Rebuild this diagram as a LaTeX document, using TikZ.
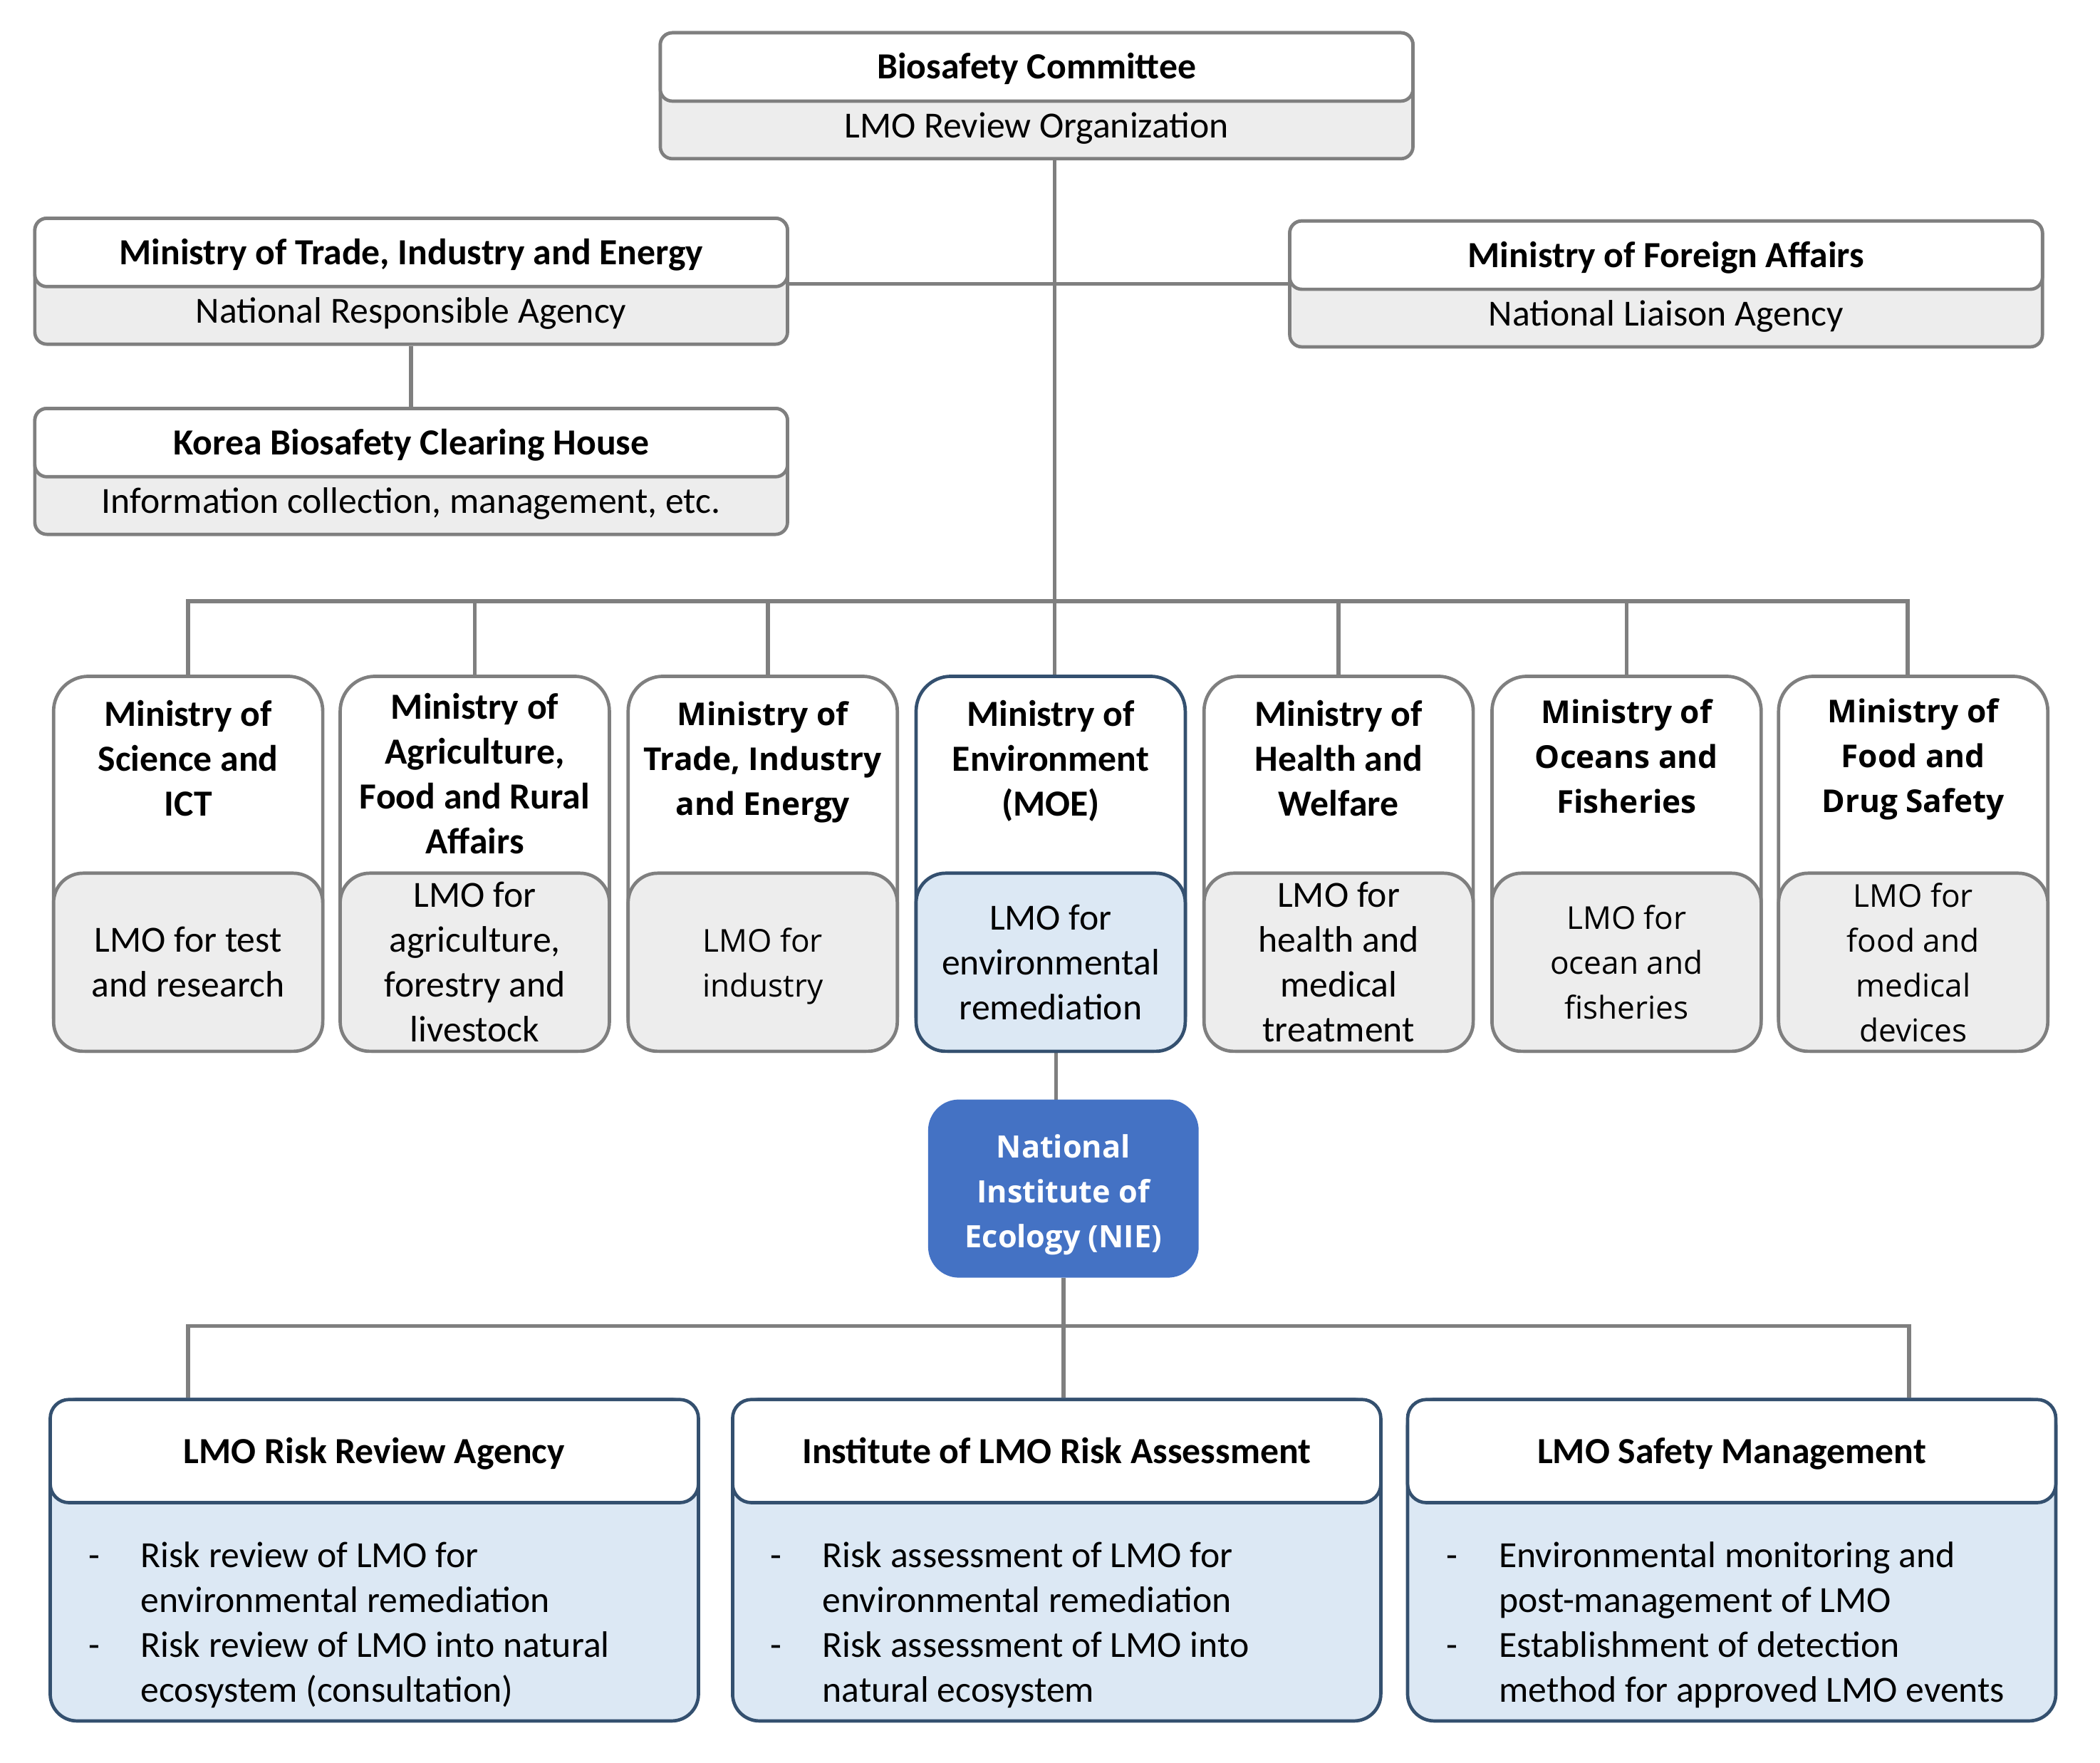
\documentclass[tikz,border=0pt]{standalone}
\usepackage{fontspec}
\setmainfont{Carlito}
\newfontfamily\osans{Open Sans}
\usetikzlibrary{backgrounds}
\definecolor{lineg}{HTML}{7F7F7F}
\definecolor{greyf}{HTML}{EDEDED}
\definecolor{darkb}{HTML}{34506F}
\definecolor{lblue}{HTML}{DCE8F4}
\definecolor{nieblue}{HTML}{4472C4}
\newcommand\fC{\fontsize{27.5}{33.5}\selectfont}
\newcommand\fO{\osans\fontsize{23.5}{33.5}\selectfont}
\begin{document}
\begin{tikzpicture}[x=1pt,y=-1pt,
  gline/.style={draw=lineg,line width=3pt},
  gbox/.style={draw=lineg,line width=2.5pt,inner sep=0pt},
  hdouter/.style={gbox,fill=greyf,rounded corners=9pt,minimum width=562pt,minimum height=94pt},
  hdtitle/.style={gbox,fill=white,rounded corners=9pt,minimum width=562pt,minimum height=51pt,font=\fC\bfseries,text height=23pt,text depth=5pt},
  hdsub/.style={inner sep=0pt,font=\fC},
  mouter/.style={gbox,fill=white,rounded corners=26pt,minimum width=201pt,minimum height=280pt},
  msub/.style={gbox,fill=greyf,rounded corners=22pt,minimum width=201pt,minimum height=133pt,align=center},
  mtitle/.style={inner sep=0pt,align=center},
  bouter/.style={draw=darkb,line width=2.5pt,inner sep=0pt,fill=lblue,rounded corners=20pt,minimum width=484pt,minimum height=240pt},
  btitle/.style={draw=darkb,line width=2.5pt,inner sep=0pt,fill=white,rounded corners=14pt,minimum width=484pt,minimum height=77pt,font=\fC\bfseries,text height=23pt,text depth=5pt},
  blist/.style={inner sep=0pt,anchor=west,font=\fC}
]
\useasboundingbox (0,0) rectangle (1568,1316.4);

% ---- top boxes
\node[hdouter] (bc) at (774,71.5) {};
\node[hdtitle] (bct) at (774,50) {Biosafety Committee};
\node[hdsub] (bcs) at (774,96) {LMO Review Organization};

\node[hdouter] (motie) at (307,210) {};
\node[hdtitle] (motiet) at (307,188.5) {Ministry of Trade, Industry and Energy};
\node[hdsub] (moties) at (307,234) {National Responsible Agency};

\node[hdouter] (mofa) at (1244,212) {};
\node[hdtitle] (mofat) at (1244,190.5) {Ministry of Foreign Affairs};
\node[hdsub] (mofas) at (1244,236) {National Liaison Agency};

\node[hdouter] (kbch) at (307,352) {};
\node[hdtitle] (kbcht) at (307,330.5) {Korea Biosafety Clearing House};
\node[hdsub] (kbchs) at (307,376) {Information collection, management, etc.};

% ---- ministry boxes
\node[mouter] (m1) at (140.5,645) {};
\node[msub,font=\fC] (s1) at (140.5,718.5) {LMO for test\\and research};
\node[mtitle,font=\fC\bfseries] (t1) at (140.5,566) {Ministry of\\Science and\\ICT};

\node[mouter] (m2) at (354.5,645) {};
\node[msub,font=\fC] (s2) at (354.5,718.5) {LMO for\\agriculture,\\forestry and\\livestock};
\node[mtitle,font=\fC\bfseries] (t2) at (354.5,577.5) {Ministry of\\Agriculture,\\Food and Rural\\Affairs};

\node[mouter] (m3) at (569.5,645) {};
\node[msub] (s3) at (569.5,718.5) {};
\node[mtitle,font=\fO] (s3t) at (569.5,721.5) {LMO for\\industry};
\node[mtitle,font=\fO\bfseries] (t3) at (569.5,569) {Ministry of\\Trade, Industry\\and Energy};

\node[mouter,draw=darkb] (m4) at (784.5,645) {};
\node[msub,draw=darkb,fill=lblue,font=\fC] (s4) at (784.5,718.5) {LMO for\\environmental\\remediation};
\node[mtitle,font=\fC\bfseries] (t4) at (784.5,568) {Ministry of\\Environment\\(MOE)};

\node[mouter] (m5) at (999.5,645) {};
\node[msub,font=\fC] (s5) at (999.5,718.5) {LMO for\\health and\\medical\\treatment};
\node[mtitle,font=\fC\bfseries] (t5) at (999.5,566) {Ministry of\\Health and\\Welfare};

\node[mouter] (m6) at (1214.5,645) {};
\node[msub,font=\fO] (s6) at (1214.5,718.5) {LMO for\\ocean and\\fisheries};
\node[mtitle,font=\fO\bfseries] (t6) at (1214.5,565) {Ministry of\\Oceans and\\Fisheries};

\node[mouter] (m7) at (1428.5,645) {};
\node[msub,font=\fO] (s7) at (1428.5,718.5) {LMO for\\food and\\medical\\devices};
\node[mtitle,font=\fO\bfseries] (t7) at (1428.5,567) {Ministry of\\Food and\\Drug Safety};

% ---- NIE
\node[draw=nieblue,fill=nieblue,line width=2pt,rounded corners=22pt,minimum width=200pt,minimum height=131pt,inner sep=0pt] (nie) at (794,887.5) {};
\node[mtitle,text=white,font=\osans\bfseries\fontsize{23}{33.5}\selectfont] (niet) at (794,892) {National\\Institute of\\Ecology (NIE)};

% ---- bottom boxes
\node[bouter] (b1) at (279.5,1165) {};
\node[btitle] (bt1) at (279.5,1083.5) {LMO Risk Review Agency};
\node[blist] (bl1) at (66,1214) {\begin{tabular}{@{}p{39pt}@{}l@{}}-&Risk review of LMO for\\&environmental remediation\\-&Risk review of LMO into natural\\&ecosystem (consultation)\end{tabular}};

\node[bouter] (b2) at (789,1165) {};
\node[btitle] (bt2) at (789,1083.5) {Institute of LMO Risk Assessment};
\node[blist] (bl2) at (575,1214) {\begin{tabular}{@{}p{39pt}@{}l@{}}-&Risk assessment of LMO for\\&environmental remediation\\-&Risk assessment of LMO into\\&natural ecosystem\end{tabular}};

\node[bouter] (b3) at (1293,1165) {};
\node[btitle] (bt3) at (1293,1083.5) {LMO Safety Management};
\node[blist] (bl3) at (1080,1214) {\begin{tabular}{@{}p{39pt}@{}l@{}}-&Environmental monitoring and\\&post-management of LMO\\-&Establishment of detection\\&method for approved LMO events\end{tabular}};

% ---- connectors
\coordinate (busA) at (0,449);
\coordinate (busB) at (0,990);
\coordinate (d3) at ([xshift=4pt]m3.north);
\coordinate (d4) at ([xshift=3pt]m4.north);
\coordinate (d7) at ([xshift=-4pt]m7.north);
\coordinate (e4) at ([xshift=4pt]m4.south);
\coordinate (e7) at ([xshift=-3pt]m7.south);
\begin{pgfonlayer}{background}
  \draw[gline] (bc.south -| d4) -- (d4);
  \draw[gline] ([yshift=-2pt]motie.east) -- ([yshift=-2pt]mofa.west |- motie.east);
  \draw[gline] (motie.south) -- (kbch.north);
  \draw[gline] (m1.north) -- (m1.north |- busA) -- (d7 |- busA) -- (d7);
  \foreach \i in {2,5,6} {\draw[gline] (m\i.north) -- (m\i.north |- busA);}
  \draw[gline] (d3) -- (d3 |- busA);
  \draw[gline] (e4) -- (e4 |- nie.north);
  \draw[gline] (nie.south) -- (nie.south |- b2.north);
  \draw[gline] (m1.south |- b1.north) -- (m1.south |- busB) -- (e7 |- busB) -- (e7 |- b3.north);
\end{pgfonlayer}
\end{tikzpicture}
\end{document}
